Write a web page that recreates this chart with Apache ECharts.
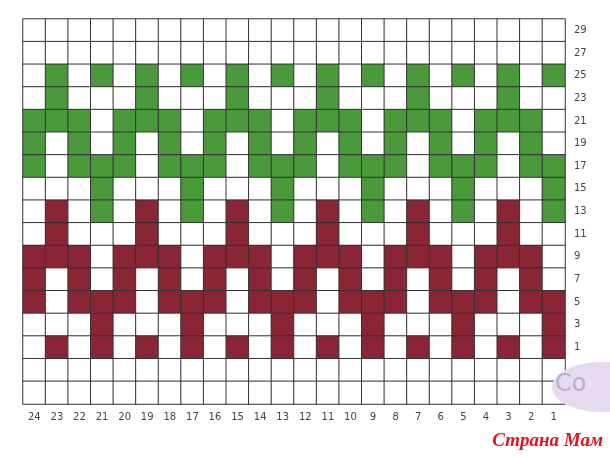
<!DOCTYPE html>
<html>
<head>
<meta charset="utf-8">
<script src="https://cdn.jsdelivr.net/npm/echarts@6/dist/echarts.min.js"></script>
<style>html,body{margin:0;padding:0;background:#fff}#c{width:610px;height:458px}</style>
</head>
<body>
<div id="c"></div>
<script>
// Column labels, left to right
var xLabels = ['24','23','22','21','20','19','18','17','16','15','14','13','12','11','10','9','8','7','6','5','4','3','2','1'];
// Row labels, bottom to top (two unlabeled rows at the bottom)
var yLabels = ['', ' ', '1','3','5','7','9','11','13','15','17','19','21','23','25','27','29'];
// Pattern rows, top to bottom ('.' white, 'G' green, 'R' red), columns 24 -> 1
var row29 = '........................';
var row27 = '........................';
var row25 = '.G.G.G.G.G.G.G.G.G.G.G.G';
var row23 = '.G...G...G...G...G...G..';
var row21 = 'GGG.GGG.GGG.GGG.GGG.GGG.';
var row19 = 'G.G.G.G.G.G.G.G.G.G.G.G.';
var row17 = 'G.GGG.GGG.GGG.GGG.GGG.GG';
var row15 = '...G...G...G...G...G...G';
var row13 = '.R.G.R.G.R.G.R.G.R.G.R.G';
var row11 = '.R...R...R...R...R...R..';
var row9  = 'RRR.RRR.RRR.RRR.RRR.RRR.';
var row7  = 'R.R.R.R.R.R.R.R.R.R.R.R.';
var row5  = 'R.RRR.RRR.RRR.RRR.RRR.RR';
var row3  = '...R...R...R...R...R...R';
var row1  = '.R.R.R.R.R.R.R.R.R.R.R.R';
var rowB1 = '........................';
var rowB2 = '........................';

var pattern = [row29,row27,row25,row23,row21,row19,row17,row15,row13,row11,row9,row7,row5,row3,row1,rowB1,rowB2];
var codes = {'.':0,'G':1,'R':2};
var data = [];
for (var r = 0; r < pattern.length; r++) {
  var yi = pattern.length - 1 - r;
  for (var c = 0; c < pattern[r].length; c++) {
    data.push([c, yi, codes[pattern[r][c]]]);
  }
}

var chart = echarts.init(document.getElementById('c'));
chart.setOption({
  animation: false,
  backgroundColor: '#ffffff',
  grid: {left: 23, right: 45, top: 19, bottom: 54},
  xAxis: {
    type: 'category', data: xLabels, position: 'bottom',
    axisLine: {show: false}, axisTick: {show: false}, splitLine: {show: false},
    axisLabel: {color: '#444', fontSize: 10, fontFamily: 'DejaVu Sans', margin: 8}
  },
  yAxis: {
    type: 'category', data: yLabels, position: 'right',
    axisLine: {show: false}, axisTick: {show: false}, splitLine: {show: false},
    axisLabel: {color: '#444', fontSize: 10, fontFamily: 'DejaVu Sans', margin: 9, align: 'left'}
  },
  visualMap: {
    show: false, type: 'piecewise', dimension: 2,
    pieces: [
      {value: 0, color: '#ffffff'},
      {value: 1, color: '#4a993b'},
      {value: 2, color: '#8a2535'}
    ]
  },
  graphic: [
    {type: 'ellipse', shape: {cx: 602, cy: 387, rx: 50, ry: 25}, style: {fill: '#e6daf1'}, z: 10},
    {type: 'text', left: 555, top: 373, style: {text: 'Со', fill: '#bcaecb', font: '24px "DejaVu Sans"'}, z: 11},
    {type: 'text', right: 7, top: 432, style: {text: 'Страна Мам', fill: '#e3121c', font: 'italic bold 19px "Liberation Serif"'}, z: 11}
  ],
  series: [{
    type: 'heatmap',
    data: data,
    itemStyle: {borderColor: '#333333', borderWidth: 1},
    emphasis: {disabled: true}
  }]
});
</script>
</body>
</html>
